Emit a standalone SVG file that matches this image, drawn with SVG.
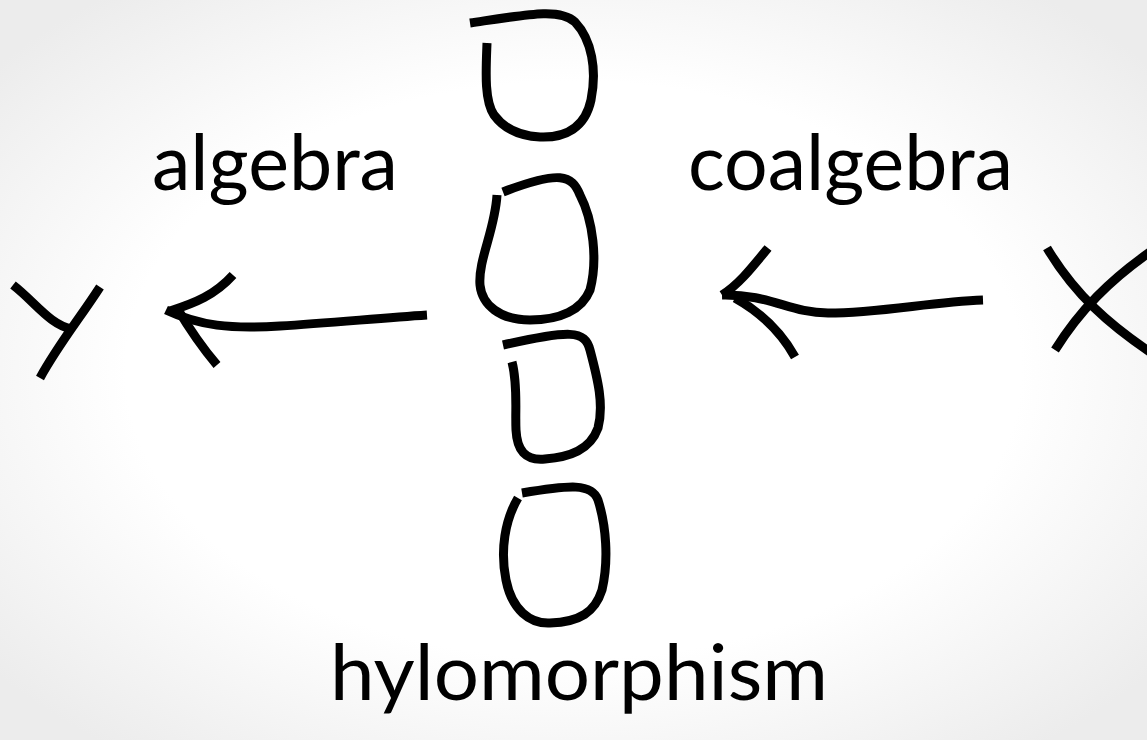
<svg xmlns="http://www.w3.org/2000/svg" width="1147" height="740" viewBox="0 0 1147 740">
<defs>
<radialGradient id="bg" cx="50%" cy="50%" r="65%">
<stop offset="0" stop-color="#ffffff"/>
<stop offset="0.6" stop-color="#ffffff"/>
<stop offset="1" stop-color="#ececec"/>
</radialGradient>
<style>
.s{fill:none;stroke:#000;stroke-width:9;stroke-linecap:butt;stroke-linejoin:round}
.t{font-family:Lato,"Open Sans",sans-serif;font-size:78px;fill:#000}
</style>
</defs>
<rect width="1147" height="740" fill="url(#bg)"/>
<g id="label-algebra"><text class="t" x="152" y="190" textLength="246" lengthAdjust="spacingAndGlyphs">algebra</text></g>
<g id="label-coalgebra"><text class="t" x="688" y="190" textLength="325" lengthAdjust="spacingAndGlyphs">coalgebra</text></g>
<g id="label-hylomorphism"><text class="t" x="330" y="700" textLength="498" lengthAdjust="spacingAndGlyphs">hylomorphism</text></g>
<g id="node-Y">
<path class="s" d="M13,285 C35,302 50,325 72,329"/>
<path class="s" d="M100,287 C80,318 58,345 40,378"/>
</g>
<g id="node-X">
<path class="s" d="M1047,248 C1075,295 1110,325 1150,352"/>
<path class="s" d="M1055,350 C1080,310 1110,280 1150,252"/>
</g>
<g id="node-F">
<path class="s" d="M487,43 C486,70 484,100 494,115 C505,130 520,136 540,137 C565,138 585,128 591,100 C597,70 592,40 575,22 C560,8 530,14 470,23"/>
<path class="s" d="M497,195 C495,230 478,260 480,285 C482,305 500,320 530,320 C560,320 582,310 590,290 C598,260 593,220 580,195 C572,175 560,170 503,192"/>
<path class="s" d="M512,362 C518,385 515,410 516,430 C517,450 525,461 545,459 C570,457 590,450 598,428 C604,405 598,380 590,350 C585,330 570,330 503,345"/>
<path class="s" d="M518,498 C505,520 500,550 506,580 C512,610 530,624 550,623 C580,622 595,612 602,590 C609,560 606,525 598,500 C592,483 570,485 522,493"/>
</g>
<g id="connectors">
<path class="s" d="M427,315 C380,318 330,323 280,326 C230,329 200,326 166,310"/>
<path class="s" d="M233,275 C215,295 195,303 170,311"/>
<path class="s" d="M177,308 C190,330 200,345 217,365"/>
<path class="s" d="M983,300 C930,302 880,313 828,313 C790,313 770,294 722,295"/>
<path class="s" d="M768,248 C750,270 738,285 722,295"/>
<path class="s" d="M735,298 C760,312 780,330 795,357"/>
</g>
</svg>
